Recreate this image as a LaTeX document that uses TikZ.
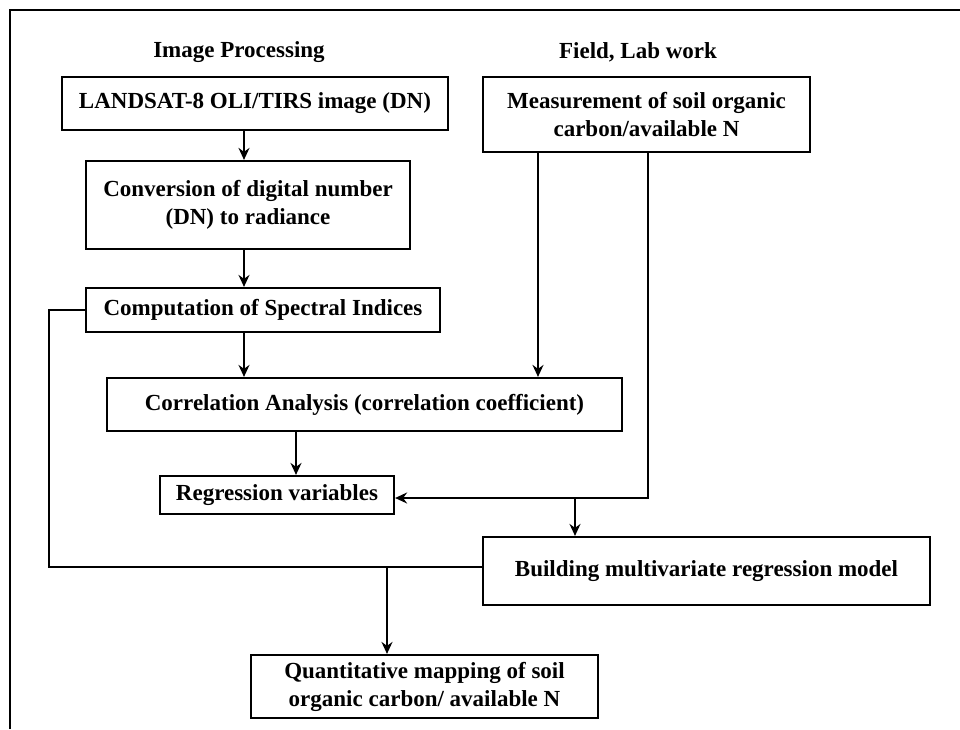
\documentclass[tikz,border=0pt]{standalone}
\usepackage{fontspec}
\setmainfont{Liberation Serif}
\usetikzlibrary{arrows.meta}

\begin{document}
\begin{tikzpicture}[x=1pt,y=-1pt,line width=2.2pt,
    >={Stealth[length=12pt,width=11pt,inset=4pt]},
    every node/.style={font=\fontsize{23}{28}\selectfont\bfseries},
    box/.style={draw,inner sep=0pt,align=center}]
    \useasboundingbox (0,0) rectangle (960,729);
    % frame
    \draw[line width=1.8pt] (10,729) -- (10,10) -- (960,10);
    % headings
    \node (ip) at (239,52) {Image Processing};
    \node (fl) at (638,52) {Field, Lab work};
    % boxes
    \node[box,minimum width=386pt,minimum height=53pt] (landsat) at (255,103.5) {LANDSAT-8 OLI/TIRS image (DN)};
    \node[box,minimum width=324pt,minimum height=88pt] (conv) at (248,205) {Conversion of digital number\\(DN) to radiance};
    \node[box,minimum width=354pt,minimum height=44pt] (comp) at (263,310) {Computation of Spectral Indices};
    \node[box,minimum width=327pt,minimum height=75pt] (meas) at (646.5,114.5) {Measurement of soil organic\\carbon/available N};
    \node[box,minimum width=515pt,minimum height=53pt] (corr) at (364.5,404.5) {Correlation Analysis (correlation coefficient)};
    \node[box,minimum width=234pt,minimum height=38pt] (regr) at (277,495) {Regression variables};
    \node[box,minimum width=447pt,minimum height=68pt] (build) at (706.5,571) {Building multivariate regression model};
    \node[box,minimum width=347pt,minimum height=63pt] (quant) at (424.5,686.5) {Quantitative mapping of soil\\organic carbon/ available N};
    % columns and bends
    \coordinate (c1) at (244,0);
    \coordinate (c2) at (538,0);
    \coordinate (c3) at (296,0);
    \coordinate (j) at (648,498);
    \coordinate (j2) at (575,498);
    \coordinate (k) at (49,567);
    \coordinate (q) at (387,567);
    % connectors
    \draw[->] (c1 |- landsat.south) -- (c1 |- conv.north);
    \draw[->] (c1 |- conv.south) -- (c1 |- comp.north);
    \draw[->] (c1 |- comp.south) -- (c1 |- corr.north);
    \draw[->] (c2 |- meas.south) -- (c2 |- corr.north);
    \draw[->] (c3 |- corr.south) -- (c3 |- regr.north);
    \draw[->] (j |- meas.south) -- (j) -- (j -| regr.east);
    \draw[->] (j2) -- (j2 |- build.north);
    \draw (comp.west) -| (k) -- (k -| build.west);
    \draw[->] (q) -- (q |- quant.north);
\end{tikzpicture}
\end{document}
